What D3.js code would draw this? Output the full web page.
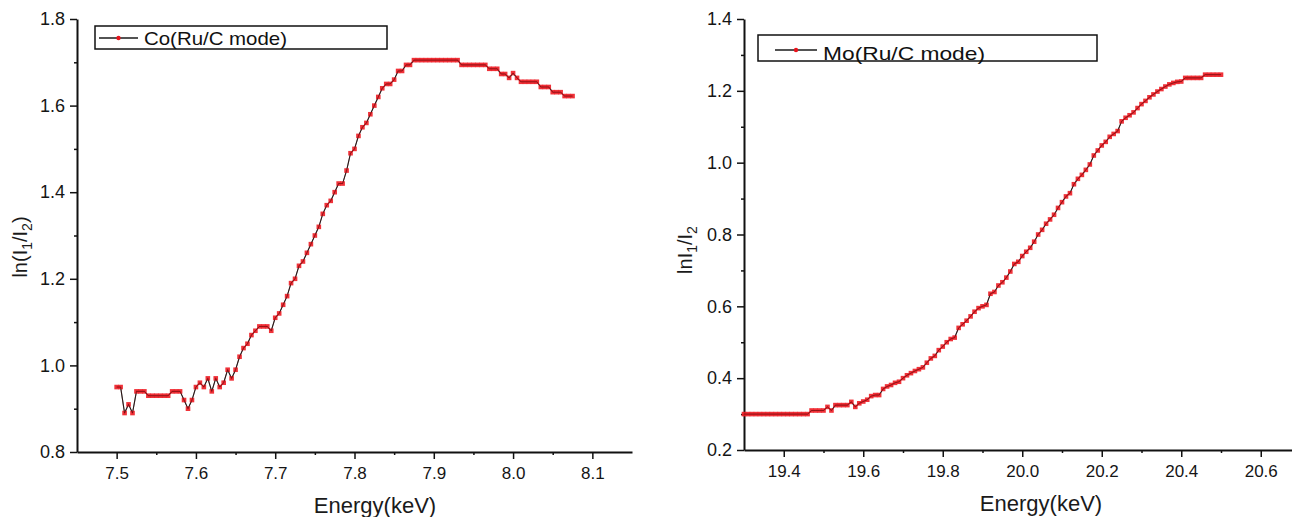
<!DOCTYPE html>
<html>
<head>
<meta charset="utf-8">
<script src="https://cdn.jsdelivr.net/npm/d3@7"></script>
<style>
  body { margin: 0; background: #fff; }
  svg { display: block; font-family: "Liberation Sans", Arial, sans-serif; }
  .axis path, .axis line { stroke: #111; }
  .axis text { fill: #151515; }
</style>
</head>
<body>
<svg id="chart" width="1292" height="517"></svg>
<script>
// Co edge scan (Ru/C mode)
const coEnergy = [
  7.500, 7.505, 7.510, 7.515, 7.520, 7.525, 7.530, 7.535, 7.540, 7.545,
  7.550, 7.555, 7.560, 7.565, 7.570, 7.575, 7.580, 7.585, 7.590, 7.595,
  7.600, 7.605, 7.610, 7.615, 7.620, 7.625, 7.630, 7.635, 7.640, 7.645,
  7.650, 7.655, 7.660, 7.665, 7.670, 7.675, 7.680, 7.685, 7.690, 7.695,
  7.700, 7.705, 7.710, 7.715, 7.720, 7.725, 7.730, 7.735, 7.740, 7.745,
  7.750, 7.755, 7.760, 7.765, 7.770, 7.775, 7.780, 7.785, 7.790, 7.795,
  7.800, 7.805, 7.810, 7.815, 7.820, 7.825, 7.830, 7.835, 7.840, 7.845,
  7.850, 7.855, 7.860, 7.865, 7.870, 7.875, 7.880, 7.885, 7.890, 7.895,
  7.900, 7.905, 7.910, 7.915, 7.920, 7.925, 7.930, 7.935, 7.940, 7.945,
  7.950, 7.955, 7.960, 7.965, 7.970, 7.975, 7.980, 7.985, 7.990, 7.995,
  8.000, 8.005, 8.010, 8.015, 8.020, 8.025, 8.030, 8.035, 8.040, 8.045,
  8.050, 8.055, 8.060, 8.065, 8.070, 8.075
];
const coLnRatio = [
  0.95, 0.95, 0.89, 0.91, 0.89, 0.94, 0.94, 0.94, 0.93, 0.93,
  0.93, 0.93, 0.93, 0.93, 0.94, 0.94, 0.94, 0.92, 0.90, 0.92,
  0.95, 0.96, 0.95, 0.97, 0.94, 0.97, 0.95, 0.96, 0.99, 0.97,
  0.99, 1.02, 1.04, 1.05, 1.07, 1.08, 1.09, 1.09, 1.09, 1.08,
  1.11, 1.12, 1.14, 1.16, 1.19, 1.20, 1.23, 1.24, 1.26, 1.28,
  1.30, 1.32, 1.35, 1.37, 1.38, 1.40, 1.42, 1.42, 1.45, 1.49,
  1.50, 1.53, 1.55, 1.56, 1.58, 1.60, 1.62, 1.64, 1.65, 1.65,
  1.66, 1.68, 1.68, 1.694, 1.694, 1.705, 1.705, 1.705, 1.705, 1.705,
  1.705, 1.705, 1.705, 1.705, 1.705, 1.705, 1.705, 1.694, 1.694, 1.694,
  1.694, 1.694, 1.694, 1.694, 1.685, 1.685, 1.685, 1.673, 1.673, 1.664,
  1.675, 1.664, 1.655, 1.655, 1.655, 1.655, 1.655, 1.643, 1.643, 1.643,
  1.631, 1.631, 1.631, 1.622, 1.622, 1.622
];

// Mo edge scan (Ru/C mode)
const moEnergy = [
  19.30, 19.31, 19.32, 19.33, 19.34, 19.35, 19.36, 19.37, 19.38, 19.39,
  19.40, 19.41, 19.42, 19.43, 19.44, 19.45, 19.46, 19.47, 19.48, 19.49,
  19.50, 19.51, 19.52, 19.53, 19.54, 19.55, 19.56, 19.57, 19.58, 19.59,
  19.60, 19.61, 19.62, 19.63, 19.64, 19.65, 19.66, 19.67, 19.68, 19.69,
  19.70, 19.71, 19.72, 19.73, 19.74, 19.75, 19.76, 19.77, 19.78, 19.79,
  19.80, 19.81, 19.82, 19.83, 19.84, 19.85, 19.86, 19.87, 19.88, 19.89,
  19.90, 19.91, 19.92, 19.93, 19.94, 19.95, 19.96, 19.97, 19.98, 19.99,
  20.00, 20.01, 20.02, 20.03, 20.04, 20.05, 20.06, 20.07, 20.08, 20.09,
  20.10, 20.11, 20.12, 20.13, 20.14, 20.15, 20.16, 20.17, 20.18, 20.19,
  20.20, 20.21, 20.22, 20.23, 20.24, 20.25, 20.26, 20.27, 20.28, 20.29,
  20.30, 20.31, 20.32, 20.33, 20.34, 20.35, 20.36, 20.37, 20.38, 20.39,
  20.40, 20.41, 20.42, 20.43, 20.44, 20.45, 20.46, 20.47, 20.48, 20.49,
  20.50
];
const moLnRatio = [
  0.30, 0.30, 0.30, 0.30, 0.30, 0.30, 0.30, 0.30, 0.30, 0.30,
  0.30, 0.30, 0.30, 0.30, 0.30, 0.30, 0.30, 0.31, 0.31, 0.31,
  0.31, 0.32, 0.31, 0.325, 0.325, 0.325, 0.325, 0.334, 0.32, 0.33,
  0.335, 0.34, 0.35, 0.353, 0.353, 0.37, 0.377, 0.381, 0.387, 0.39,
  0.40, 0.408, 0.414, 0.42, 0.425, 0.43, 0.443, 0.455, 0.462, 0.478,
  0.488, 0.50, 0.509, 0.513, 0.54, 0.55, 0.56, 0.572, 0.585, 0.595,
  0.60, 0.604, 0.635, 0.64, 0.658, 0.667, 0.68, 0.697, 0.718, 0.724,
  0.74, 0.752, 0.763, 0.78, 0.80, 0.813, 0.83, 0.842, 0.855, 0.874,
  0.89, 0.906, 0.915, 0.94, 0.955, 0.966, 0.98, 0.995, 1.02, 1.034,
  1.048, 1.058, 1.072, 1.08, 1.088, 1.115, 1.125, 1.132, 1.14, 1.152,
  1.163, 1.172, 1.182, 1.19, 1.198, 1.205, 1.212, 1.218, 1.222, 1.225,
  1.226, 1.236, 1.236, 1.236, 1.236, 1.236, 1.245, 1.245, 1.245, 1.245,
  1.245
];

// tick labels
const coXTicks = [7.5, 7.6, 7.7, 7.8, 7.9, 8.0, 8.1];
const coXMinor = [7.55, 7.65, 7.75, 7.85, 7.95, 8.05];
const coYTicks = [0.8, 1.0, 1.2, 1.4, 1.6, 1.8];
const coYMinor = [0.9, 1.1, 1.3, 1.5, 1.7];
const moXTicks = [19.4, 19.6, 19.8, 20.0, 20.2, 20.4, 20.6];
const moXMinor = [19.5, 19.7, 19.9, 20.1, 20.3, 20.5];
const moYTicks = [0.2, 0.4, 0.6, 0.8, 1.0, 1.2, 1.4];
const moYMinor = [0.3, 0.5, 0.7, 0.9, 1.1, 1.3];

const svg = d3.select('#chart');
const fmt = d3.format('.1f');

function drawPanel(opt) {
  const g = svg.append('g');
  const x = d3.scaleLinear().domain(opt.xDomain).range(opt.xRange);
  const y = d3.scaleLinear().domain(opt.yDomain).range(opt.yRange);
  const y0 = opt.yRange[0], x0 = opt.xRange[0];

  // minor ticks first, then major axes on top
  g.append('g').attr('class', 'axis').attr('transform', `translate(0,${y0})`)
    .call(d3.axisBottom(x).tickValues(opt.xMinor).tickSize(3).tickFormat('').tickSizeOuter(0))
    .call(a => a.select('.domain').remove())
    .selectAll('line').attr('stroke-width', 1.5);
  g.append('g').attr('class', 'axis').attr('transform', `translate(${x0},0)`)
    .call(d3.axisLeft(y).tickValues(opt.yMinor).tickSize(3).tickFormat('').tickSizeOuter(0))
    .call(a => a.select('.domain').remove())
    .selectAll('line').attr('stroke-width', 1.5);

  const xAxis = g.append('g').attr('class', 'axis').attr('transform', `translate(0,${y0})`)
    .call(d3.axisBottom(x).tickValues(opt.xTicks).tickFormat(fmt).tickSize(7).tickPadding(8).tickSizeOuter(0));
  xAxis.selectAll('text').style('font-size', '17px');
  xAxis.selectAll('line').attr('stroke-width', 1.5);
  xAxis.select('.domain').attr('stroke-width', 2);

  const yAxis = g.append('g').attr('class', 'axis').attr('transform', `translate(${x0},0)`)
    .call(d3.axisLeft(y).tickValues(opt.yTicks).tickFormat(fmt).tickSize(7).tickPadding(5).tickSizeOuter(0));
  yAxis.selectAll('text').style('font-size', '18px');
  yAxis.selectAll('line').attr('stroke-width', 1.5);
  yAxis.select('.domain').attr('stroke-width', 2);

  const pts = opt.energy.map((e, i) => [e, opt.values[i]]);

  // connecting line
  g.append('path').datum(pts)
    .attr('fill', 'none')
    .attr('stroke', '#222')
    .attr('stroke-width', 1.1)
    .attr('d', d3.line().x(d => x(d[0])).y(d => y(d[1])));

  // symbols
  g.append('g').selectAll('rect').data(pts).join('rect')
    .attr('x', d => x(d[0]) - 2.3)
    .attr('y', d => y(d[1]) - 2.3)
    .attr('width', 4.6)
    .attr('height', 4.6)
    .attr('fill', '#ee1c24')
    .attr('fill-opacity', 0.9);

  // thin dark core over symbols, like the plotted trace
  g.append('path').datum(pts)
    .attr('fill', 'none')
    .attr('stroke', '#3a0a0a')
    .attr('stroke-width', 0.6)
    .attr('stroke-opacity', 0.8)
    .attr('d', d3.line().x(d => x(d[0])).y(d => y(d[1])));

  // x label
  g.append('text')
    .attr('x', opt.xLabelX).attr('y', opt.xLabelY)
    .attr('text-anchor', 'middle')
    .style('font-size', '22px').attr('fill', '#1a1a1a')
    .text('Energy(keV)');

  // y label with subscripts
  const yl = g.append('text')
    .attr('transform', `translate(${opt.yLabelX},${opt.yLabelY}) rotate(-90)`)
    .attr('text-anchor', 'middle')
    .style('font-size', '20px').attr('fill', '#1a1a1a');
  opt.yLabelParts.forEach(p => {
    const t = yl.append('tspan').text(p.t);
    if (p.sub) t.attr('dy', 5).style('font-size', '14px');
    else if (p.after) t.attr('dy', -5);
  });

  // legend
  const L = opt.legend;
  g.append('rect')
    .attr('x', L.x).attr('y', L.y).attr('width', L.w).attr('height', L.h)
    .attr('fill', 'none').attr('stroke', '#111').attr('stroke-width', 1.5);
  g.append('line')
    .attr('x1', L.lx1).attr('x2', L.lx2).attr('y1', L.ly).attr('y2', L.ly)
    .attr('stroke', '#1a1a1a').attr('stroke-width', 1.5);
  g.append('circle')
    .attr('cx', (L.lx1 + L.lx2) / 2).attr('cy', L.ly).attr('r', 2.2)
    .attr('fill', '#e8141c');
  g.append('text')
    .attr('x', L.tx).attr('y', L.ty)
    .attr('textLength', L.tw).attr('lengthAdjust', 'spacingAndGlyphs')
    .style('font-size', '19px').attr('fill', '#111')
    .text(opt.name);
}

drawPanel({
  name: 'Co(Ru/C mode)',
  energy: coEnergy, values: coLnRatio,
  xDomain: [7.45, 8.15], xRange: [77, 632],
  yDomain: [0.8, 1.8], yRange: [452, 19],
  xTicks: coXTicks, xMinor: coXMinor, yTicks: coYTicks, yMinor: coYMinor,
  xLabelX: 375, xLabelY: 513,
  yLabelX: 27, yLabelY: 247,
  yLabelParts: [{t: 'ln(I'}, {t: '1', sub: true}, {t: '/I', after: true}, {t: '2', sub: true}, {t: ')', after: true}],
  legend: {x: 95, y: 26, w: 292, h: 23, lx1: 99, lx2: 138, ly: 38, tx: 144, ty: 45, tw: 143}
});

drawPanel({
  name: 'Mo(Ru/C mode)',
  energy: moEnergy, values: moLnRatio,
  xDomain: [19.3, 20.7], xRange: [744, 1300.5],
  yDomain: [0.2, 1.4], yRange: [450, 19],
  xTicks: moXTicks, xMinor: moXMinor, yTicks: moYTicks, yMinor: moYMinor,
  xLabelX: 1041, xLabelY: 511,
  yLabelX: 692, yLabelY: 250,
  yLabelParts: [{t: 'lnI'}, {t: '1', sub: true}, {t: '/I', after: true}, {t: '2', sub: true}],
  legend: {x: 758, y: 35, w: 339, h: 26, lx1: 775, lx2: 817, ly: 50, tx: 823, ty: 60, tw: 162}
});
</script>
</body>
</html>
